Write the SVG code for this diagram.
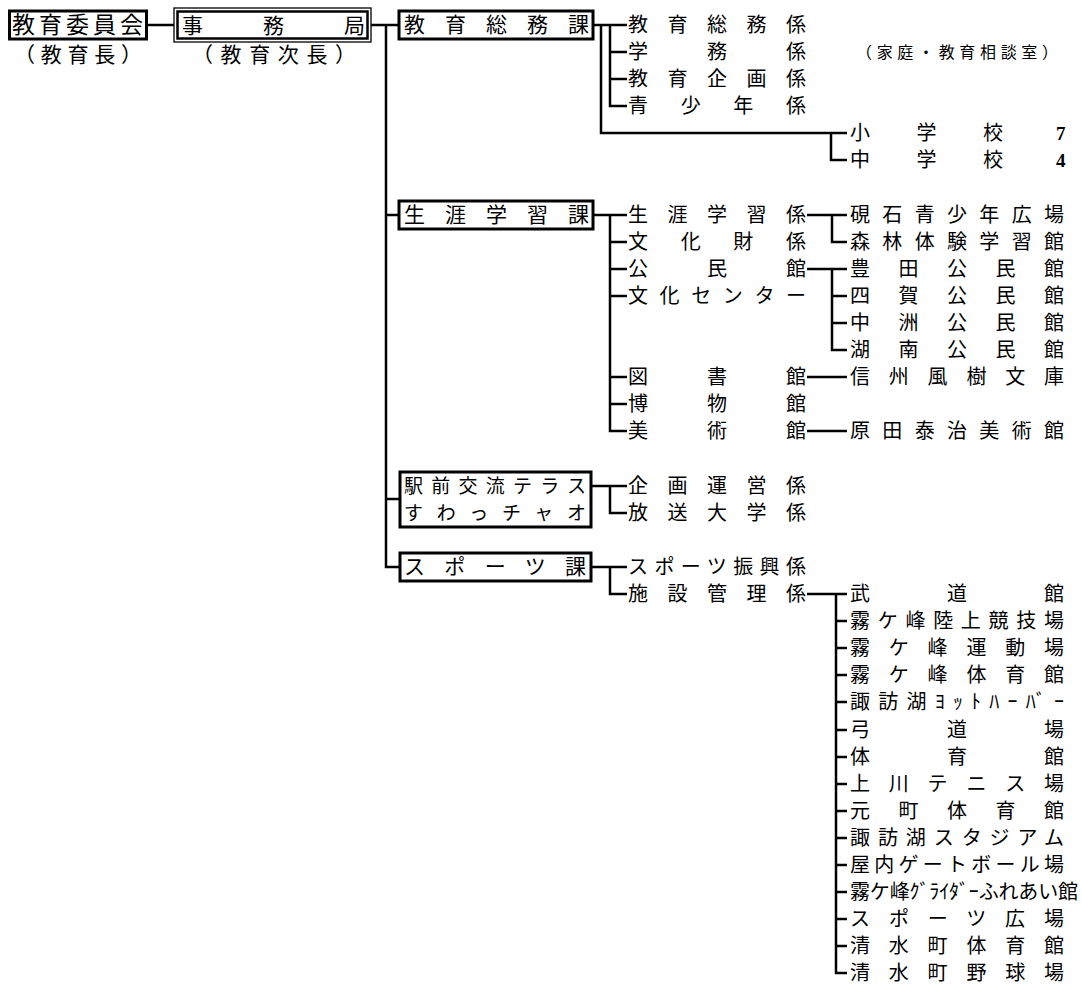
<svg xmlns="http://www.w3.org/2000/svg" width="1082" height="997" viewBox="0 0 1082 997">
<style>
text { font-family: "Noto Sans CJK JP", "Noto Sans CJK SC", sans-serif; fill:#000; }
.t { font-size: 20px; }
.b { font-size: 21px; }
.e { font-size: 19px; }
.s { font-size: 16px; }
.n { font-family: "Liberation Serif", serif; font-size: 19px; font-weight: bold; }
.ln { stroke:#000; stroke-width:2.5; fill:none; }
.bx { fill:#fff; stroke:#000; stroke-width:3; }
.bo { fill:#fff; stroke:#000; stroke-width:1.3; }
.bi { fill:none; stroke:#000; stroke-width:2.5; }
</style>
<rect width="1082" height="997" fill="#fff"/>
<g id="connectors">
<path class="ln" d="M147 25H174M371 25H399"/>
<path class="ln" d="M386 25V567H400M386 215H400M386 499H400"/>
<path class="ln" d="M593 25H627M610 25V106H627M610 52H627M610 79H627"/>
<path class="ln" d="M601 25V133H847M831 133V160H847"/>
<path class="ln" d="M593 215H627M610 215V431H627M610 242H627M610 269H627M610 296H627M610 377H627M610 404H627"/>
<path class="ln" d="M807 215H847M832 215V242H847"/>
<path class="ln" d="M807 269H847M832 269V350H847M832 296H847M832 323H847"/>
<path class="ln" d="M807 377H847M807 431H847"/>
<path class="ln" d="M591 486H627M610 486V513H627"/>
<path class="ln" d="M591 567H627M610 567V594H627"/>
<path class="ln" d="M807 594H847M836 594V973H847M836 621H847M836 648H847M836 675H847M836 702H847M836 730H847M836 757H847M836 784H847M836 811H847M836 838H847M836 865H847M836 892H847M836 919H847M836 946H847"/>
</g>
<g id="kyoiku-iinkai">
<rect class="bx" x="9.5" y="11" width="137" height="28"/>
<text class="b" x="12" y="33" textLength="131" lengthAdjust="spacing" style="font-size:23px">教育委員会</text>
<text class="b" x="14" y="62" textLength="128" lengthAdjust="spacing">（教育長）</text>
</g>
<g id="jimukyoku">
<rect class="bo" x="174" y="8" width="197" height="34"/>
<rect class="bi" x="177.5" y="11.5" width="190" height="27"/>
<text class="b" x="182" y="33" textLength="183" lengthAdjust="spacing">事務局</text>
<text class="b" x="192" y="62" textLength="164" lengthAdjust="spacing">（教育次長）</text>
</g>
<g id="kyoiku-somuka">
<rect class="bx" x="399" y="11" width="194" height="28"/>
<text class="b" x="404" y="32" textLength="185" lengthAdjust="spacing">教育総務課</text>
</g>
<g id="somuka-kakari">
<text class="t" x="628" y="32" textLength="178" lengthAdjust="spacing">教育総務係</text>
<text class="t" x="628" y="59" textLength="178" lengthAdjust="spacing">学務係</text>
<text class="t" x="628" y="86" textLength="178" lengthAdjust="spacing">教育企画係</text>
<text class="t" x="628" y="113" textLength="178" lengthAdjust="spacing">青少年係</text>
<text class="s" x="856" y="58" textLength="202" lengthAdjust="spacing">（家庭・教育相談室）</text>
</g>
<g id="gakko">
<text class="t" x="850" y="140" textLength="153" lengthAdjust="spacing">小学校</text>
<text class="n" x="1056" y="140">7</text>
<text class="t" x="850" y="167" textLength="153" lengthAdjust="spacing">中学校</text>
<text class="n" x="1056" y="167">4</text>
</g>
<g id="shogai-gakushuka">
<rect class="bx" x="399" y="201" width="194" height="28"/>
<text class="b" x="404" y="222" textLength="185" lengthAdjust="spacing">生涯学習課</text>
</g>
<g id="shogai-kakari">
<text class="t" x="628" y="222" textLength="178" lengthAdjust="spacing">生涯学習係</text>
<text class="t" x="628" y="249" textLength="178" lengthAdjust="spacing">文化財係</text>
<text class="t" x="628" y="276" textLength="178" lengthAdjust="spacing">公民館</text>
<text class="t" x="628" y="303" textLength="178" lengthAdjust="spacing">文化センター</text>
<text class="t" x="628" y="384" textLength="178" lengthAdjust="spacing">図書館</text>
<text class="t" x="628" y="411" textLength="178" lengthAdjust="spacing">博物館</text>
<text class="t" x="628" y="438" textLength="178" lengthAdjust="spacing">美術館</text>
</g>
<g id="shogai-shisetsu">
<text class="t" x="850" y="222" textLength="214" lengthAdjust="spacing">硯石青少年広場</text>
<text class="t" x="850" y="249" textLength="214" lengthAdjust="spacing">森林体験学習館</text>
<text class="t" x="850" y="276" textLength="214" lengthAdjust="spacing">豊田公民館</text>
<text class="t" x="850" y="303" textLength="214" lengthAdjust="spacing">四賀公民館</text>
<text class="t" x="850" y="330" textLength="214" lengthAdjust="spacing">中洲公民館</text>
<text class="t" x="850" y="357" textLength="214" lengthAdjust="spacing">湖南公民館</text>
<text class="t" x="850" y="384" textLength="214" lengthAdjust="spacing">信州風樹文庫</text>
<text class="t" x="850" y="438" textLength="214" lengthAdjust="spacing">原田泰治美術館</text>
</g>
<g id="ekimae-terrace">
<rect class="bx" x="400" y="472" width="191" height="55"/>
<text class="e" x="404" y="493" textLength="182" lengthAdjust="spacing">駅前交流テラス</text>
<text class="e" x="404" y="520" textLength="182" lengthAdjust="spacing">すわっチャオ</text>
</g>
<g id="ekimae-kakari">
<text class="t" x="628" y="493" textLength="178" lengthAdjust="spacing">企画運営係</text>
<text class="t" x="628" y="520" textLength="178" lengthAdjust="spacing">放送大学係</text>
</g>
<g id="sports-ka">
<rect class="bx" x="400" y="553" width="191" height="28"/>
<text class="b" x="404" y="574" textLength="182" lengthAdjust="spacing">スポーツ課</text>
</g>
<g id="sports-kakari">
<text class="t" x="628" y="574" textLength="178" lengthAdjust="spacing">スポーツ振興係</text>
<text class="t" x="628" y="601" textLength="178" lengthAdjust="spacing">施設管理係</text>
</g>
<g id="sports-shisetsu">
<text class="t" x="850" y="601" textLength="214" lengthAdjust="spacing">武道館</text>
<text class="t" x="850" y="628" textLength="214" lengthAdjust="spacing">霧ケ峰陸上競技場</text>
<text class="t" x="850" y="655" textLength="214" lengthAdjust="spacing">霧ケ峰運動場</text>
<text class="t" x="850" y="682" textLength="214" lengthAdjust="spacing">霧ケ峰体育館</text>
<text class="t" x="850" y="709" textLength="214" lengthAdjust="spacing">諏訪湖ﾖｯﾄﾊｰﾊﾞｰ</text>
<text class="t" x="850" y="737" textLength="214" lengthAdjust="spacing">弓道場</text>
<text class="t" x="850" y="764" textLength="214" lengthAdjust="spacing">体育館</text>
<text class="t" x="850" y="791" textLength="214" lengthAdjust="spacing">上川テニス場</text>
<text class="t" x="850" y="818" textLength="214" lengthAdjust="spacing">元町体育館</text>
<text class="t" x="850" y="845" textLength="214" lengthAdjust="spacing">諏訪湖スタジアム</text>
<text class="t" x="850" y="872" textLength="214" lengthAdjust="spacing">屋内ゲートボール場</text>
<text class="t" x="850" y="899" textLength="228" lengthAdjust="spacing">霧ケ峰ｸﾞﾗｲﾀﾞｰふれあい館</text>
<text class="t" x="850" y="926" textLength="214" lengthAdjust="spacing">スポーツ広場</text>
<text class="t" x="850" y="953" textLength="214" lengthAdjust="spacing">清水町体育館</text>
<text class="t" x="850" y="980" textLength="214" lengthAdjust="spacing">清水町野球場</text>
</g>
</svg>
